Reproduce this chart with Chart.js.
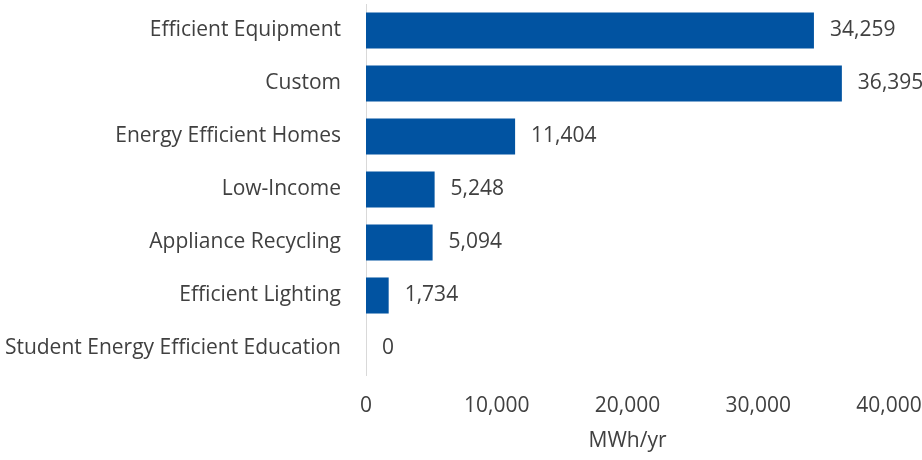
<!DOCTYPE html>
<html>
<head>
<meta charset="utf-8">
<script src="https://cdn.jsdelivr.net/npm/chart.js@4/dist/chart.umd.min.js"></script>
<style>
  html, body { margin: 0; padding: 0; background: #fff; }
  #wrap { width: 922px; height: 460px; position: relative; }
</style>
</head>
<body>
<div id="wrap"><canvas id="grafico"></canvas></div>
<script>
const categorias = [
    'Efficient Equipment',
    'Custom',
    'Energy Efficient Homes',
    'Low-Income',
    'Appliance Recycling',
    'Efficient Lighting',
    'Student Energy Efficient Education'
]
const valores = [34259, 36395, 11404, 5248, 5094, 1734, 0]
const ticksX = [0, 10000, 20000, 30000, 40000]
const tituloX = 'MWh/yr'

const FONTE = "'Open Sans', sans-serif"
const TAM = 21
const COR_TEXTO = '#404040'

function formatNum(v) {
    return Number(v).toLocaleString('en-US')
}

// rótulos de valor no fim de cada barra
const rotulos = {
    id: 'rotulos',
    afterDatasetsDraw(chart) {
        const ctx = chart.ctx
        const meta = chart.getDatasetMeta(0)
        ctx.save()
        ctx.font = TAM + 'px ' + FONTE
        ctx.fillStyle = COR_TEXTO
        ctx.textBaseline = 'middle'
        ctx.textAlign = 'left'
        meta.data.forEach((bar, i) => {
            ctx.fillText(formatNum(valores[i]), bar.x + 16, bar.y)
        })
        ctx.restore()
    }
}

new Chart(document.getElementById('grafico'), {
    type: 'bar',
    data: {
        labels: categorias,
        datasets: [{
            data: valores,
            backgroundColor: '#0153A1',
            borderWidth: 0,
            barPercentage: 0.68,
            categoryPercentage: 1
        }]
    },
    options: {
        indexAxis: 'y',
        responsive: true,
        maintainAspectRatio: false,
        animation: false,
        layout: { padding: { top: 4, right: 33, bottom: 0, left: 0 } },
        plugins: {
            legend: { display: false },
            tooltip: { enabled: false }
        },
        scales: {
            x: {
                min: 0,
                max: 40000,
                afterBuildTicks: axis => { axis.ticks = ticksX.map(v => ({ value: v })) },
                afterFit: s => {
                    s.height = 85
                    s.paddingLeft = 0
                    s.paddingRight = 0
                },
                grid: { display: false, drawTicks: false },
                border: { display: false },
                ticks: {
                    color: COR_TEXTO,
                    font: { family: FONTE, size: TAM },
                    padding: 18,
                    maxRotation: 0,
                    callback: v => formatNum(v)
                },
                title: {
                    display: true,
                    text: tituloX,
                    color: COR_TEXTO,
                    font: { family: FONTE, size: TAM },
                    padding: { top: 0, bottom: 6 }
                }
            },
            y: {
                afterFit: s => {
                    s.width = 366
                    s.paddingTop = 0
                    s.paddingBottom = 0
                },
                grid: { display: false, drawTicks: false },
                border: { display: true, color: '#D9D9D9', width: 1 },
                ticks: {
                    color: COR_TEXTO,
                    font: { family: FONTE, size: TAM },
                    padding: 25
                }
            }
        }
    },
    plugins: [rotulos]
})
</script>
</body>
</html>
